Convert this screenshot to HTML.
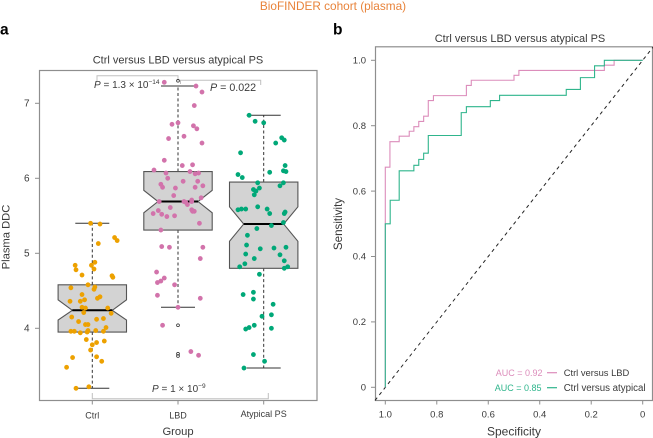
<!DOCTYPE html>
<html>
<head>
<meta charset="utf-8">
<style>
html,body{margin:0;padding:0;background:#fff;width:653px;height:438px;overflow:hidden}
svg{display:block}
text{font-family:"Liberation Sans",sans-serif;fill:#3a3a3a}
</style>
</head>
<body>
<svg id="fig" width="653" height="438" viewBox="0 0 653 438" xmlns="http://www.w3.org/2000/svg">
<text x="333" y="10" text-anchor="middle" font-size="11.8" style="fill:#e8833a">BioFINDER cohort (plasma)</text>
<text x="0" y="34.5" font-size="15.5" font-weight="bold" style="fill:#000">a</text>
<text x="333" y="34.5" font-size="15.5" font-weight="bold" style="fill:#000">b</text>
<text x="178" y="63.5" text-anchor="middle" font-size="11">Ctrl versus LBD versus atypical PS</text>
<text x="520" y="42" text-anchor="middle" font-size="11">Ctrl versus LBD versus atypical PS</text>
<rect x="39.5" y="70.5" width="277.5" height="330" fill="none" stroke="#8e8e8e" stroke-width="1.2"/>
<rect x="375.5" y="46.8" width="277" height="353.7" fill="none" stroke="#8e8e8e" stroke-width="1.2"/>
<g id="a-brackets" fill="none" stroke="#c0c0c0" stroke-width="1">
<path d="M97 81V75.7H178V81"/>
<path d="M180.5 84V80.2H260.7V85"/>
<path d="M92.3 393V398.7H268.3V393"/>
</g>
<g id="a-layer"></g>
<g id="b-layer"></g>
<text x="94" y="88" font-size="10"><tspan font-style="italic">P</tspan> = 1.3 × 10<tspan dy="-4" font-size="6.5">−14</tspan></text>
<text x="210" y="91" font-size="10.7"><tspan font-style="italic">P</tspan> = 0.022</text>
<text x="152" y="392" font-size="10"><tspan font-style="italic">P</tspan> = 1 × 10<tspan dy="-4" font-size="6.5">−9</tspan></text>
<text x="178" y="435" text-anchor="middle" font-size="11.2">Group</text>
<text transform="translate(9.5,237) rotate(-90)" text-anchor="middle" font-size="11.2">Plasma DDC</text>
<text x="514" y="435.5" text-anchor="middle" font-size="12">Specificity</text>
<text transform="translate(342,224) rotate(-90)" text-anchor="middle" font-size="11.6">Sensitivity</text>
<text x="495.7" y="376" font-size="9" style="fill:#dc8dbb">AUC = 0.92</text>
<text x="494.7" y="391" font-size="9" style="fill:#2fb58c">AUC = 0.85</text>
<line x1="547" x2="557" y1="372.7" y2="372.7" stroke="#dc8dbb" stroke-width="1.2"/>
<line x1="547" x2="557" y1="387.7" y2="387.7" stroke="#2fb58c" stroke-width="1.2"/>
<text x="563.7" y="376" font-size="9.4">Ctrl versus LBD</text>
<text x="563.7" y="391" font-size="9.7">Ctrl versus atypical</text>
</svg>
<script>
const groupNames = ['Ctrl', 'LBD', 'Atypical PS'];
const groupColors = ['#eda100', '#d273ab', '#00a878'];
const yTicks = [4, 5, 6, 7];
const boxQ1 = [3.95, 5.31, 4.80];
const boxQ3 = [4.58, 6.09, 5.95];
const boxMedian = [4.24, 5.69, 5.39];
const notchLow = [4.11, 5.54, 5.16];
const notchHigh = [4.38, 5.84, 5.62];
const whiskerLow = [3.20, 4.28, 3.47];
const whiskerHigh = [5.40, 7.23, 6.84];
const outlierGroup = [1, 1, 1, 1];
const outlierValues = [7.30, 4.04, 3.66, 3.63];
const ctrlJitter = [-.02,.09,.26,.29,.07,.03,-.20,-.01,-.19,.02,-.12,.23,.24,-.05,.03,-.25,.02,-.12,.09,.06,-.26,-.14,-.09,-.12,-.08,.18,-.10,.22,-.24,.13,.05,-.16,-.05,-.08,.16,-.25,-.21,-.14,-.06,-.05,.04,.13,-.07,.05,.14,0,-.02,-.23,.05,.11,-.30,-.04,-.19];
const ctrlValues = [5.40,5.39,5.21,5.17,5.13,4.88,4.84,4.84,4.78,4.79,4.71,4.70,4.68,4.58,4.55,4.54,4.52,4.45,4.42,4.40,4.36,4.36,4.38,4.28,4.27,4.27,4.21,4.20,4.15,4.13,4.12,4.09,4.05,4.05,4.01,3.96,3.96,3.94,3.95,3.97,3.97,3.96,3.85,3.81,3.83,3.78,3.71,3.61,3.62,3.56,3.48,3.22,3.20];
const lbdJitter = [-.16,.21,.28,.19,0,-.07,.18,.22,.07,-.11,.28,-.16,.05,.17,-.28,-.14,.14,.20,.24,-.12,.06,.23,-.20,-.18,.29,-.03,.20,-.05,.27,.07,.16,-.22,.09,.16,.11,-.09,.16,.19,.17,-.23,-.29,-.19,-.13,-.04,.25,-.20,-.19,-.10,.29,.26,-.25,-.16,-.20,-.24,-.04,-.24,.26,0,-.18,.15,.24];
const lbdValues = [7.28,7.23,7.15,6.97,6.74,6.72,6.70,6.66,6.56,6.53,6.47,6.24,6.17,6.18,6.11,6.07,6.09,6.06,6.07,6.00,5.96,5.96,5.92,5.88,5.90,5.87,5.88,5.77,5.74,5.69,5.71,5.69,5.68,5.69,5.65,5.61,5.58,5.56,5.56,5.57,5.53,5.52,5.49,5.50,5.40,5.31,5.09,5.08,5.08,4.93,4.75,4.67,4.63,4.61,4.58,4.44,4.40,4.28,4.04,3.69,3.64];
const atypicalJitter = [-.17,-.10,0,.21,.24,.14,-.27,.25,.23,.26,.07,-.30,-.25,-.07,.23,.19,-.05,-.12,-.09,-.11,-.07,-.30,-.26,-.21,.04,.07,.25,.24,.23,.09,-.08,-.19,-.20,-.04,.12,.26,-.21,.19,-.11,.24,-.22,-.28,.24,.28,-.05,-.24,-.12,-.12,.11,.09,-.02,-.11,-.17,-.21,.09,-.12,.01,-.23];
const atypicalValues = [6.84,6.76,6.74,6.54,6.51,6.47,6.34,6.17,6.10,6.09,6.08,6.05,6.01,5.94,5.94,5.90,5.87,5.85,5.83,5.78,5.62,5.58,5.59,5.59,5.59,5.53,5.55,5.53,5.41,5.37,5.33,5.24,5.11,5.06,5.07,5.08,4.99,4.98,4.93,4.90,4.86,4.82,4.80,4.82,4.72,4.45,4.48,4.39,4.32,4.18,4.16,4.04,4.01,3.99,4.00,3.65,3.56,3.47];
const rocTicks = [0, 0.2, 0.4, 0.6, 0.8, 1.0];
const rocTickLabels = ['0', '0.2', '0.4', '0.6', '0.8', '1.0'];
const lbdSpec = [1.0,.982,.946,.907,.889,.870,.851,.833,.813,.685,.666,.5,.481,.149,.111,0];
const lbdSens = [.673,.751,.768,.783,.797,.813,.829,.877,.892,.923,.939,.954,.969,.985,1,1];
const atypicalSpec = [1.0,.981,.946,.889,.870,.851,.833,.705,.685,.592,.556,.297,.242,.187,.149,0];
const atypicalSens = [.5,.572,.662,.679,.697,.716,.770,.840,.858,.877,.893,.911,.947,.983,1,1];

const NS = 'http://www.w3.org/2000/svg';
const aLayer = document.getElementById('a-layer');
const bLayer = document.getElementById('b-layer');
function mk(parent, tag, attrs, txt) {
  const el = document.createElementNS(NS, tag);
  for (const k in attrs) el.setAttribute(k, attrs[k]);
  if (txt !== undefined) el.textContent = txt;
  parent.appendChild(el);
  return el;
}
const xA = i => 92.3 + 85.7 * i;
const yA = v => 328.3 - 75 * (v - 4);
const xB = s => 642.7 - 257.4 * s;
const yB = s => 387.3 - 327 * s;
const boxHalf = 34.2, notchHalf = 20, capHalf = 17;

yTicks.forEach(t => {
  const tick = mk(aLayer, 'line', {x1: 35, x2: 39.5, y1: yA(t), y2: yA(t), stroke: '#8e8e8e'});
  
  
  const lab = mk(aLayer, 'text', {x: 29.5, y: yA(t) + 3.4, 'text-anchor': 'end', 'font-size': 10}, String(t));
  
  
});
groupNames.forEach((g, i) => {
  const cx = xA(i);
  const tick = mk(aLayer, 'line', {x1: cx, x2: cx, y1: 400.5, y2: 404.5, stroke: '#8e8e8e'});
  
  
  const lab = mk(aLayer, 'text', {x: cx, y: i === 2 ? 417 : 418.5, 'text-anchor': 'middle', 'font-size': 9}, g);
  
  

  const wh = mk(aLayer, 'path', {d: `M${cx} ${yA(boxQ3[i])}V${yA(whiskerHigh[i])}M${cx} ${yA(boxQ1[i])}V${yA(whiskerLow[i])}`, fill: 'none', stroke: '#333', 'stroke-width': 1, 'stroke-dasharray': '3 2.4'});
  
  
  const caps = mk(aLayer, 'path', {d: `M${cx - capHalf} ${yA(whiskerHigh[i])}H${cx + capHalf}M${cx - capHalf} ${yA(whiskerLow[i])}H${cx + capHalf}`, fill: 'none', stroke: '#333', 'stroke-width': 1});
  
  

  const L = cx - boxHalf, R = cx + boxHalf, nl = cx - notchHalf, nr = cx + notchHalf;
  const pts = [[L, yA(boxQ1[i])], [R, yA(boxQ1[i])], [R, yA(notchLow[i])], [nr, yA(boxMedian[i])], [R, yA(notchHigh[i])], [R, yA(boxQ3[i])], [L, yA(boxQ3[i])], [L, yA(notchHigh[i])], [nl, yA(boxMedian[i])], [L, yA(notchLow[i])]];
  const box = mk(aLayer, 'polygon', {points: pts.map(p => p.join(',')).join(' '), fill: '#d3d3d3', stroke: '#555', 'stroke-width': 1.1});
  
  
  const med = mk(aLayer, 'line', {x1: nl, x2: nr, y1: yA(boxMedian[i]), y2: yA(boxMedian[i]), stroke: '#000', 'stroke-width': 2});
  
  
});
outlierValues.forEach((v, k) => {
  const c = mk(aLayer, 'circle', {cx: xA(outlierGroup[k]), cy: yA(v), r: 1.4, fill: 'none', stroke: '#222', 'stroke-width': 0.7});
  
  
});
[[ctrlJitter, ctrlValues], [lbdJitter, lbdValues], [atypicalJitter, atypicalValues]].forEach((s, i) => {
  s[1].forEach((v, k) => {
    const d = mk(aLayer, 'circle', {cx: xA(i + s[0][k]), cy: yA(v), r: 2.4, fill: groupColors[i]});
    
    
  });
});

rocTicks.forEach((t, k) => {
  const yt = mk(bLayer, 'line', {x1: 371, x2: 375.5, y1: yB(t), y2: yB(t), stroke: '#8e8e8e'});
  
  
  const yl = mk(bLayer, 'text', {x: 366, y: yB(t) + 3.2, 'text-anchor': 'end', 'font-size': 9.5}, rocTickLabels[k]);
  
  
  const xt = mk(bLayer, 'line', {x1: xB(t), x2: xB(t), y1: 400.5, y2: 404.5, stroke: '#8e8e8e'});
  
  
  const xl = mk(bLayer, 'text', {x: xB(t), y: 417.5, 'text-anchor': 'middle', 'font-size': 9.5}, rocTickLabels[k]);
  
  
});
const diag = mk(bLayer, 'line', {x1: xB(1.04), y1: yB(-0.04), x2: xB(-0.04), y2: yB(1.04), stroke: '#222', 'stroke-width': 1, 'stroke-dasharray': '3.5 3.5'});


function stepPath(spec, sens) {
  let d = `M${xB(spec[0])} ${yB(0)}`;
  spec.forEach((s, i) => {
    d += `H${xB(s)}V${yB(sens[i])}`;
  });
  return d;
}
const curveLbd = mk(bLayer, 'path', {d: stepPath(lbdSpec, lbdSens), fill: 'none', stroke: '#dc8dbb', 'stroke-width': 1.1});


const curveAtyp = mk(bLayer, 'path', {d: stepPath(atypicalSpec, atypicalSens), fill: 'none', stroke: '#2fb58c', 'stroke-width': 1.1});


</script>
</body>
</html>
